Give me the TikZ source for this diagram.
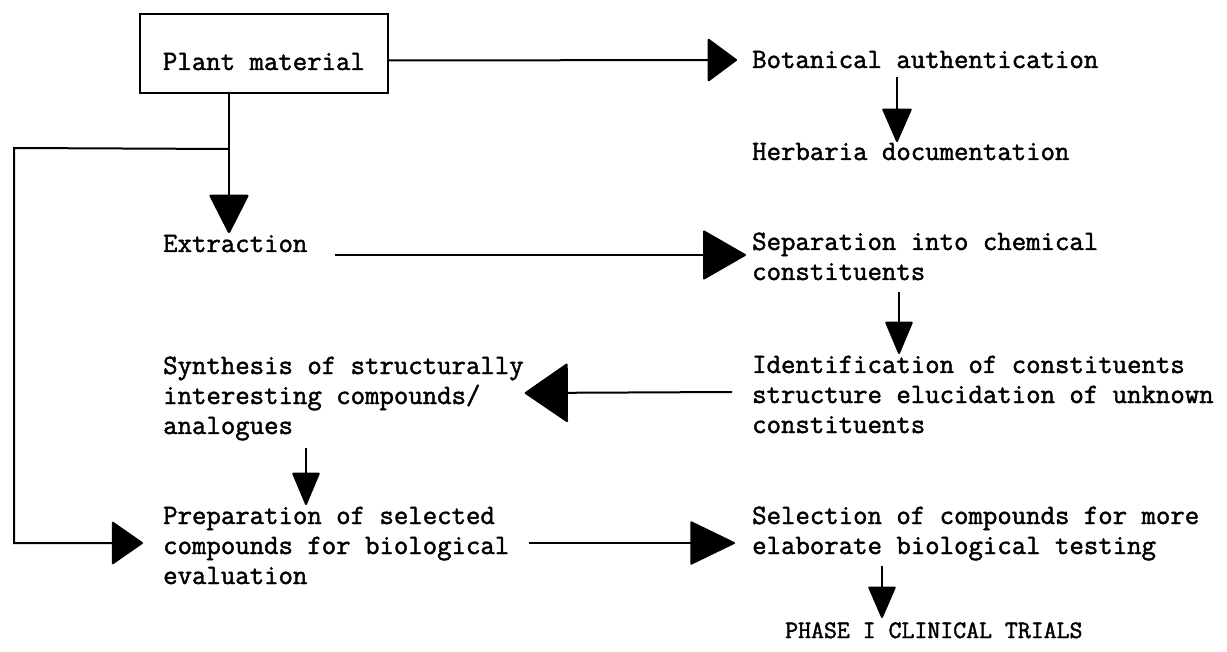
\documentclass[tikz,border=0pt]{standalone}
\usepackage{fontspec}
\setmonofont[FakeBold=1.6]{Latin Modern Mono}
\usetikzlibrary{arrows.meta}
\begin{document}
\begin{tikzpicture}[x=1pt,y=-1pt,
  txt/.style={anchor=base west, inner sep=0pt, font=\fontsize{28}{30}\selectfont\ttfamily},
  box/.style={txt, draw, line width=2pt, inner xsep=23pt, inner ysep=17pt, text height=39pt, text depth=6pt},
  conn/.style={line width=2pt},
  arr/.style 2 args={conn, -{Triangle[length=#1, width=#2, round]}}
]
\fill[white] (0,0) rectangle (1227,652);
\useasboundingbox (0,0) rectangle (1227,652);

% nodes
\node[box] (plant) at (139,70) {Plant material};
\node[txt] (bot)   at (752,68)  {Botanical authentication};
\node[txt] (herb)  at (752,160) {Herbaria documentation};
\node[txt] (ext)   at (163,252) {Extraction};
\node[txt] (sep1)  at (752,250) {Separation into chemical};
\node[txt] (sep2)  at (752,280) {constituents};
\node[txt] (syn1)  at (163,374) {Synthesis of structurally};
\node[txt] (syn2)  at (163,404) {interesting compounds/};
\node[txt] (syn3)  at (163,434) {analogues};
\node[txt] (id1)   at (752,373) {Identification of constituents};
\node[txt] (id2)   at (752,403) {structure elucidation of unknown};
\node[txt] (id3)   at (752,433) {constituents};
\node[txt] (prep1) at (163,524) {Preparation of selected};
\node[txt] (prep2) at (163,554) {compounds for biological};
\node[txt] (prep3) at (163,584) {evaluation};
\node[txt] (sel1)  at (752,524) {Selection of compounds for more};
\node[txt] (sel2)  at (752,554) {elaborate biological testing};
\node[txt, font=\fontsize{25.1}{28}\selectfont\ttfamily] (phase) at (785,638) {PHASE I CLINICAL TRIALS};

% helper coordinates
\path ([xshift=66pt]ext.base west) coordinate (extx);
\path (plant.south -| extx) ++(0,55) coordinate (br);
\coordinate (lc) at (14,148);

% connectors
\draw[arr={30pt}{44pt}] ([yshift=-7pt]plant.east) -- ([xshift=-15pt,yshift=8pt]bot.base west);
\draw[arr={35pt}{30pt}] ([xshift=145pt,yshift=-9pt]bot.base west) -- ([xshift=145pt,yshift=18pt]herb.base west);
\draw[arr={40pt}{40pt}, line width=2.6pt] (plant.south -| extx) -- ([yshift=19pt]extx);
\draw[arr={32pt}{44pt}] (br) -- (lc) |- ([xshift=-20pt,yshift=11pt]prep2.base west);
\draw[arr={44pt}{50pt}] ([xshift=27pt,yshift=-3pt]ext.base east) -- ([xshift=-6pt,yshift=-5pt]sep1.base west);
\draw[arr={34pt}{28pt}] ([xshift=147pt,yshift=-12pt]sep2.base west) -- ([xshift=147pt,yshift=19pt]id1.base west);
\draw[arr={44pt}{60pt}] ([xshift=-20pt,yshift=11pt]id2.base west) -- ([xshift=44pt,yshift=11pt]syn2.base east);
\draw[arr={34pt}{28pt}] ([xshift=143pt,yshift=-14pt]syn3.base west) -- ([xshift=143pt,yshift=19pt]prep1.base west);
\draw[arr={46pt}{44pt}] ([xshift=20pt,yshift=11pt]prep2.base east) -- ([xshift=-17pt,yshift=11pt]sel2.base west);
\draw[arr={33pt}{28pt}] ([xshift=130pt,yshift=-12pt]sel2.base west) -- ([xshift=130pt,yshift=20pt]sel2.base west |- phase.base);
\end{tikzpicture}
\end{document}
